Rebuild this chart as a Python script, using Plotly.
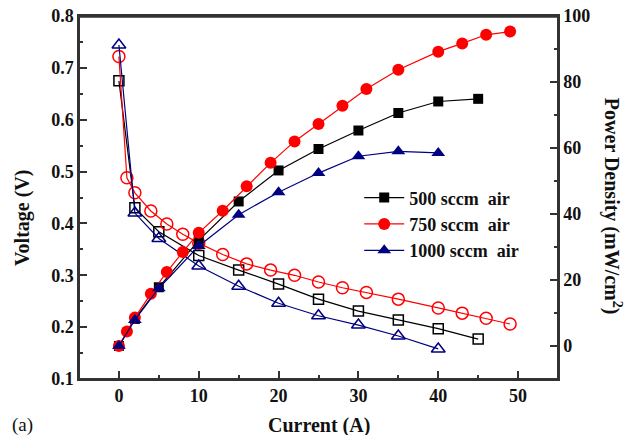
import plotly.graph_objects as go

# Data
current_500 = [0, 2, 5, 10, 15, 20, 25, 30, 35, 40, 45]
voltage_500 = [0.675, 0.430, 0.384, 0.338, 0.310, 0.283, 0.254, 0.231, 0.214, 0.197, 0.177]
power_500 = [0, 8.2, 17.8, 32.0, 43.8, 53.2, 59.7, 65.3, 70.6, 74.1, 74.9]

current_750 = [0, 1, 2, 4, 6, 8, 10, 13, 16, 19, 22, 25, 28, 31, 35, 40, 43, 46, 49]
voltage_750 = [0.722, 0.488, 0.459, 0.424, 0.399, 0.379, 0.362, 0.340, 0.322, 0.310,
               0.300, 0.287, 0.276, 0.267, 0.254, 0.237, 0.227, 0.217, 0.206]
power_750 = [0, 4.4, 8.6, 15.8, 22.4, 28.5, 34.3, 41.0, 48.4, 55.5,
             62.0, 67.3, 72.8, 77.9, 83.7, 89.2, 91.7, 94.3, 95.3]

current_1000 = [0, 2, 5, 10, 15, 20, 25, 30, 35, 40]
voltage_1000 = [0.744, 0.420, 0.371, 0.318, 0.279, 0.246, 0.222, 0.204, 0.183, 0.158]
power_1000 = [0, 7.9, 17.5, 30.3, 39.8, 46.6, 52.4, 57.5, 59.0, 58.5]

series_names = ["500 sccm  air", "750 sccm  air", "1000 sccm  air"]

FONT = "Liberation Serif"
BLACK = "#000000"
RED = "#ff0000"
NAVY = "#000080"
AXIS = "#333333"

series = [
    (current_500, voltage_500, power_500, BLACK, "square", 10),
    (current_750, voltage_750, power_750, RED, "circle", 12),
    (current_1000, voltage_1000, power_1000, NAVY, "triangle-up", 12),
]

fig = go.Figure()

# Voltage (open symbols), left axis
for (cur, volt, pw, col, sym, sz), name in zip(series, series_names):
    fig.add_trace(go.Scatter(
        x=cur, y=volt, mode="lines+markers", name=name, showlegend=False,
        line=dict(color=col, width=1.2),
        marker=dict(symbol=sym + "-open", size=sz, color=col, line=dict(width=1.5, color=col)),
        yaxis="y",
    ))

# Power density (filled symbols), right axis
for (cur, volt, pw, col, sym, sz), name in zip(series, series_names):
    fig.add_trace(go.Scatter(
        x=cur, y=pw, mode="lines+markers", name="<b>" + name + "</b>",
        line=dict(color=col, width=1.2),
        marker=dict(symbol=sym, size=sz, color=col),
        yaxis="y2",
    ))

axis_common = dict(
    showline=True, linecolor=AXIS, linewidth=1.5,
    ticks="inside", ticklen=8, tickwidth=1.5, tickcolor=AXIS,
    showgrid=False, zeroline=False, automargin=False, ticklabeloverflow="allow",
    tickfont=dict(family=FONT, size=18, color="#111111", weight="bold"),
)

fig.update_layout(
    width=626, height=427,
    margin=dict(l=71, r=76, t=8, b=56, autoexpand=False),
    paper_bgcolor="white", plot_bgcolor="white",
    font=dict(family=FONT, color="#111111"),
    xaxis=dict(
        range=[-5, 55], tick0=0, dtick=10, mirror=True,
        minor=dict(dtick=5, ticklen=4, tickwidth=1.5, tickcolor=AXIS, ticks="inside"),
        **axis_common,
    ),
    yaxis=dict(
        range=[0.1, 0.8], tick0=0.1, dtick=0.1, tickformat=".1f",
        minor=dict(dtick=0.05, ticklen=4, tickwidth=1.5, tickcolor=AXIS, ticks="inside"),
        **axis_common,
    ),
    yaxis2=dict(
        range=[-10, 100], tick0=0, dtick=20, overlaying="y", side="right",
        minor=dict(dtick=10, ticklen=4, tickwidth=1.5, tickcolor=AXIS, ticks="inside"),
        **axis_common,
    ),
    legend=dict(
        x=0.585, y=0.55, xanchor="left", yanchor="top",
        bgcolor="rgba(0,0,0,0)", borderwidth=0,
        font=dict(family=FONT, size=18, color="#111111"),
        tracegroupgap=0, itemwidth=40,
    ),
    shapes=[
        dict(type="rect", xref="paper", yref="paper", x0=0, x1=1, y0=0, y1=0.998,
             line=dict(color=AXIS, width=2), fillcolor="rgba(0,0,0,0)", layer="above"),
    ],
    annotations=[
        dict(text="<b>Voltage (V)</b>", xref="paper", yref="paper", x=-0.119, y=0.4435,
             xanchor="center", yanchor="middle", textangle=-90, showarrow=False,
             font=dict(family=FONT, size=20, color="#111111")),
        dict(text="<b>Power Density (mW/cm<sup>2</sup>)</b>", xref="paper", yref="paper",
             x=1.113, y=0.4766, xanchor="center", yanchor="middle", textangle=90,
             showarrow=False, font=dict(family=FONT, size=20, color="#111111")),
        dict(text="<b>Current (A)</b>", xref="paper", yref="paper", x=0.5, y=-0.128,
             xanchor="center", yanchor="middle", showarrow=False,
             font=dict(family=FONT, size=20, color="#111111")),
        dict(text="(a)", xref="paper", yref="paper", x=-0.118, y=-0.128,
             xanchor="center", yanchor="middle", showarrow=False,
             font=dict(family=FONT, size=19, color="#111111")),
    ],
)

fig.write_html("out.html")
